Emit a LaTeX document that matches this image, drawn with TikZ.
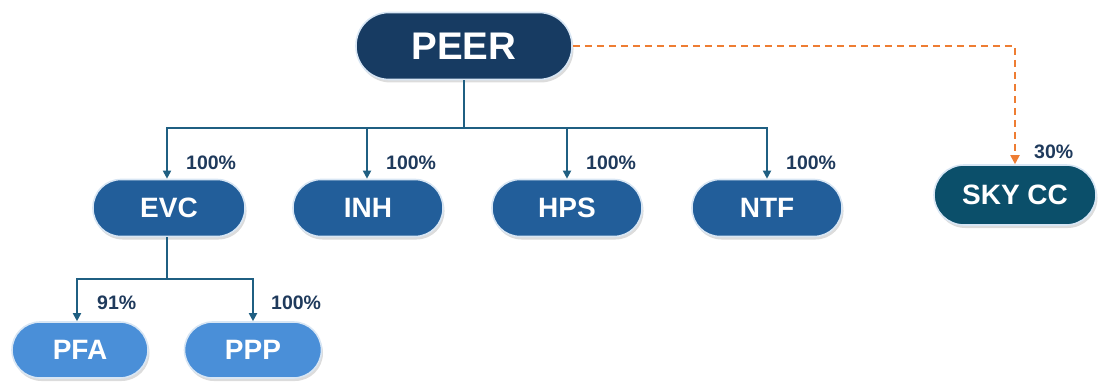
\documentclass[tikz,border=0pt]{standalone}
\usepackage{fontspec}
\setmainfont{Liberation Sans}
\usetikzlibrary{arrows.meta,shadows}
\definecolor{cPeer}{HTML}{173B62}
\definecolor{cMid}{HTML}{225E9A}
\definecolor{cSky}{HTML}{0B4F6A}
\definecolor{cLight}{HTML}{4A8FD8}
\definecolor{cLine}{HTML}{1F5F82}
\definecolor{cLab}{HTML}{1F3A5C}
\definecolor{cOrange}{HTML}{EE7D33}
\definecolor{cRim}{HTML}{D8E6F4}
\tikzset{
  pill/.style={draw=cRim, line width=1.6pt, text=white, font=\bfseries\fontsize{28}{30}\selectfont,
    rounded corners=28pt, inner sep=0pt,
    drop shadow={opacity=0.28, shadow xshift=1.5pt, shadow yshift=-3pt}},
  conn/.style={draw=cLine, line width=1.8pt, -{Triangle[width=8pt,length=8pt]}},
  plain/.style={draw=cLine, line width=1.8pt},
  dashconn/.style={draw=cOrange, line width=1.8pt, dash pattern=on 7pt off 5pt, -{Triangle[width=9pt,length=9pt]}},
  pct/.style={text=cLab, font=\bfseries\fontsize{19.5}{21}\selectfont, anchor=west, inner sep=0pt},
}
\begin{document}
\begin{tikzpicture}[x=1pt,y=-1pt]
\useasboundingbox (0,0) rectangle (1100,385);
\node[pill, fill=cPeer, minimum width=216pt, minimum height=67pt, rounded corners=33pt,
      font=\bfseries\fontsize{38.5}{40}\selectfont] (peer) at (464,46) {PEER};
\node[pill, fill=cMid, minimum width=152pt, minimum height=57pt] (evc) at (169,208) {EVC};
\node[pill, fill=cMid, minimum width=150pt, minimum height=57pt] (inh) at (368,208) {INH};
\node[pill, fill=cMid, minimum width=150pt, minimum height=57pt] (hps) at (567,208) {HPS};
\node[pill, fill=cMid, minimum width=150pt, minimum height=57pt] (ntf) at (767,208) {NTF};
\node[pill, fill=cSky, minimum width=162pt, minimum height=60pt, rounded corners=30pt] (sky) at (1015,195) {SKY CC};
\node[pill, fill=cLight, minimum width=136pt, minimum height=56pt] (pfa) at (80,350) {PFA};
\node[pill, fill=cLight, minimum width=137pt, minimum height=56pt] (ppp) at (253,350) {PPP};

\coordinate (j1) at (464,128);
\coordinate (j2) at (167,279);
\draw[plain] (peer.south) -- (j1);
\draw[conn] (j1) -| ([xshift=-2pt]evc.north);
\draw[conn] (j1) -| ([xshift=-1pt]inh.north);
\draw[conn] (j1) -| (hps.north);
\draw[conn] (j1) -| (ntf.north);
\draw[plain] ([xshift=-2pt]evc.south) -- (j2);
\draw[conn] (j2) -| ([xshift=-3pt]pfa.north);
\draw[conn] (j2) -| (ppp.north);
\draw[dashconn] (peer.east) -| (sky.north);

\node[pct] (l1) at (186,163) {100\%};
\node[pct] (l2) at (386,163) {100\%};
\node[pct] (l3) at (586,163) {100\%};
\node[pct] (l4) at (786,163) {100\%};
\node[pct] (l5) at (1034,152) {30\%};
\node[pct] (l6) at (97,303) {91\%};
\node[pct] (l7) at (271,303) {100\%};
\end{tikzpicture}
\end{document}
